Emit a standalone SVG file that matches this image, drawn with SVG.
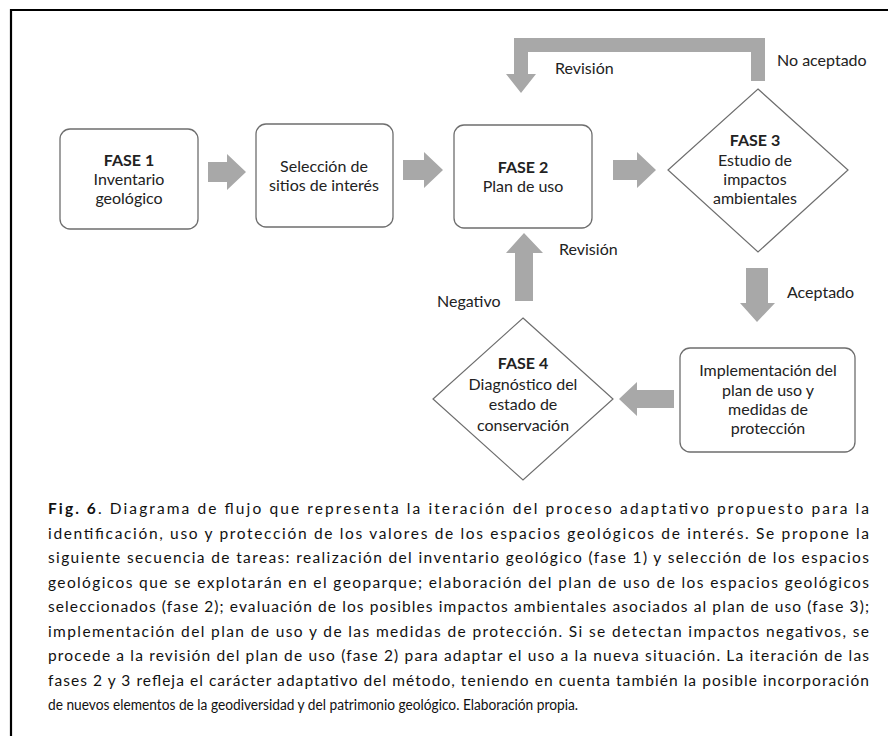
<svg xmlns="http://www.w3.org/2000/svg" width="888" height="736" viewBox="0 0 888 736">
<style>
.bg{fill:#ffffff}
.frame{fill:none;stroke:#000;stroke-width:2.2}
.box{fill:#fff;stroke:#6e6e6e;stroke-width:1.3}
.dia{fill:#fff;stroke:#6e6e6e;stroke-width:1.2}
.arr{fill:#a8a8a8;stroke:none}
text{font-family:Lato,"Liberation Sans",Arial,sans-serif;font-size:16px;fill:#222}
.c{text-anchor:middle}
.b{font-weight:bold}
.cap{font-size:15.5px;fill:#111}
</style>
<rect class="bg" x="0" y="0" width="888" height="736"/>
<path class="frame" d="M11,740 L11,10 L892,10"/>

<g id="connectors">
  <path class="arr" d="M751,81 L751,52 L528,52 L528,74 L536,74 L521,93 L506,74 L514,74 L514,38 L765,38 L765,81 Z"/>
  <path class="arr" d="M208,162 L227,162 L227,154 L246,172 L227,190 L227,182 L208,182 Z"/>
  <path class="arr" d="M403,160 L424,160 L424,152 L443,170 L424,188 L424,180 L403,180 Z"/>
  <path class="arr" d="M613,160 L637,160 L637,152 L656,170 L637,188 L637,180 L613,180 Z"/>
  <path class="arr" d="M746,268 L768,268 L768,303 L775,303 L757,322 L740,303 L746,303 Z"/>
  <path class="arr" d="M515,301 L515,253 L506,253 L524,233 L543,253 L533,253 L533,301 Z"/>
  <path class="arr" d="M674,390 L637,390 L637,382 L619,399 L637,416 L637,408 L674,408 Z"/>
</g>

<g id="labels">
  <text x="777" y="66">No aceptado</text>
  <text x="555" y="74">Revisión</text>
  <text x="559" y="255">Revisión</text>
  <text x="437" y="307">Negativo</text>
  <text x="787" y="298">Aceptado</text>
</g>

<g id="fase1">
  <rect class="box" x="60" y="129" width="138" height="100" rx="10"/>
  <text class="c b" x="129" y="166">FASE 1</text>
  <text class="c" x="129" y="185">Inventario</text>
  <text class="c" x="129" y="204">geológico</text>
</g>
<g id="seleccion">
  <rect class="box" x="256" y="124" width="137" height="103" rx="10"/>
  <text class="c" x="324" y="172">Selección de</text>
  <text class="c" x="324" y="191">sitios de interés</text>
</g>
<g id="fase2">
  <rect class="box" x="454" y="125" width="138" height="103" rx="10"/>
  <text class="c b" x="523" y="173">FASE 2</text>
  <text class="c" x="523" y="192">Plan de uso</text>
</g>
<g id="fase3">
  <polygon class="dia" points="758,89 848,170 758,252 668,170"/>
  <text class="c b" x="755" y="146">FASE 3</text>
  <text class="c" x="755" y="166">Estudio de</text>
  <text class="c" x="755" y="185">impactos</text>
  <text class="c" x="755" y="204">ambientales</text>
</g>
<g id="implementacion">
  <rect class="box" x="680" y="348" width="175" height="104" rx="10"/>
  <text class="c" x="768" y="376">Implementación del</text>
  <text class="c" x="768" y="396">plan de uso y</text>
  <text class="c" x="768" y="415">medidas de</text>
  <text class="c" x="768" y="434">protección</text>
</g>
<g id="fase4">
  <polygon class="dia" points="523,318 613,399 523,480 433,399"/>
  <text class="c b" x="523" y="369">FASE 4</text>
  <text class="c" x="523" y="390">Diagnóstico del</text>
  <text class="c" x="523" y="410">estado de</text>
  <text class="c" x="523" y="431">conservación</text>
</g>

<g id="caption">
  <text class="cap" x="48" y="514" textLength="821" lengthAdjust="spacing"><tspan font-weight="bold">Fig. 6</tspan>. Diagrama de flujo que representa la iteración del proceso adaptativo propuesto para la</text>
  <text class="cap" x="48" y="538.5" textLength="821" lengthAdjust="spacing">identificación, uso y protección de los valores de los espacios geológicos de interés. Se propone la</text>
  <text class="cap" x="48" y="563" textLength="821" lengthAdjust="spacing">siguiente secuencia de tareas: realización del inventario geológico (fase 1) y selección de los espacios</text>
  <text class="cap" x="48" y="587.5" textLength="821" lengthAdjust="spacing">geológicos que se explotarán en el geoparque; elaboración del plan de uso de los espacios geológicos</text>
  <text class="cap" x="48" y="612" textLength="821" lengthAdjust="spacing">seleccionados (fase 2); evaluación de los posibles impactos ambientales asociados al plan de uso (fase 3);</text>
  <text class="cap" x="48" y="636.5" textLength="821" lengthAdjust="spacing">implementación del plan de uso y de las medidas de protección. Si se detectan impactos negativos, se</text>
  <text class="cap" x="48" y="661" textLength="821" lengthAdjust="spacing">procede a la revisión del plan de uso (fase 2) para adaptar el uso a la nueva situación. La iteración de las</text>
  <text class="cap" x="48" y="685.5" textLength="821" lengthAdjust="spacing">fases 2 y 3 refleja el carácter adaptativo del método, teniendo en cuenta también la posible incorporación</text>
  <text class="cap" x="48" y="710" textLength="530" lengthAdjust="spacingAndGlyphs">de nuevos elementos de la geodiversidad y del patrimonio geológico. Elaboración propia.</text>
</g>
</svg>
